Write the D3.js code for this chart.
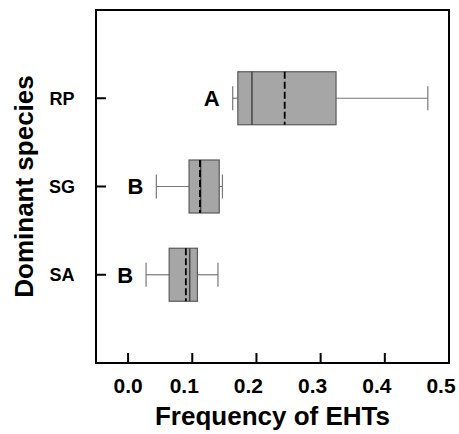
<!DOCTYPE html>
<html>
<head>
<meta charset="utf-8">
<script src="https://cdn.jsdelivr.net/npm/d3@7"></script>
<style>
  body { margin: 0; background: #fff; }
  svg { display: block; font-family: Arial, "Liberation Sans", sans-serif; font-weight: bold; }
</style>
</head>
<body>
<svg width="459" height="434"></svg>
<script>
// values
var species = ["RP", "SG", "SA"];
var whiskerLow = [0.163, 0.044, 0.028];
var q1 = [0.171, 0.095, 0.064];
var median = [0.193, 0.113, 0.096];
var mean = [0.244, 0.112, 0.090];
var q3 = [0.324, 0.142, 0.108];
var whiskerHigh = [0.467, 0.147, 0.140];
var letters = ["A", "B", "B"];
var xTicks = [0.0, 0.1, 0.2, 0.3, 0.4, 0.5];

var svg = d3.select("svg"),
    margin = {top: 10, right: 10, bottom: 71, left: 96},
    width = +svg.attr("width") - margin.left - margin.right,
    height = +svg.attr("height") - margin.top - margin.bottom;

var x = d3.scaleLinear().domain([-0.05, 0.5]).range([0, width]);
var y = d3.scalePoint().domain(species).range([0, height]).padding(1);

var data = species.map(function(s, i) {
    return {name: s, lo: whiskerLow[i], q1: q1[i], med: median[i], mean: mean[i],
            q3: q3[i], hi: whiskerHigh[i], letter: letters[i]};
});

var g = svg.append("g")
    .attr("transform", "translate(" + margin.left + "," + margin.top + ")");

var boxH = 53, capH = 24;

var box = g.selectAll("g.box")
    .data(data)
  .enter().append("g")
    .attr("class", "box")
    .attr("transform", function(d) { return "translate(0," + y(d.name) + ")"; });

// whiskers
box.append("line")
    .attr("x1", function(d) { return x(d.lo); })
    .attr("x2", function(d) { return x(d.q1); })
    .attr("stroke", "#777").attr("stroke-width", 1.2);
box.append("line")
    .attr("x1", function(d) { return x(d.q3); })
    .attr("x2", function(d) { return x(d.hi); })
    .attr("stroke", "#777").attr("stroke-width", 1.2);
box.append("line")
    .attr("x1", function(d) { return x(d.lo); })
    .attr("x2", function(d) { return x(d.lo); })
    .attr("y1", -capH / 2).attr("y2", capH / 2)
    .attr("stroke", "#777").attr("stroke-width", 1.2);
box.append("line")
    .attr("x1", function(d) { return x(d.hi); })
    .attr("x2", function(d) { return x(d.hi); })
    .attr("y1", -capH / 2).attr("y2", capH / 2)
    .attr("stroke", "#777").attr("stroke-width", 1.2);

box.append("rect")
    .attr("x", function(d) { return x(d.q1); })
    .attr("width", function(d) { return x(d.q3) - x(d.q1); })
    .attr("y", -boxH / 2)
    .attr("height", boxH)
    .attr("fill", "#a6a6a6")
    .attr("stroke", "#5a5a5a")
    .attr("stroke-width", 1.2);

// median (solid) and mean (dashed)
box.append("line")
    .attr("x1", function(d) { return x(d.med); })
    .attr("x2", function(d) { return x(d.med); })
    .attr("y1", -boxH / 2).attr("y2", boxH / 2)
    .attr("stroke", "#444").attr("stroke-width", 1.5);
box.append("line")
    .attr("x1", function(d) { return x(d.mean); })
    .attr("x2", function(d) { return x(d.mean); })
    .attr("y1", -boxH / 2).attr("y2", boxH / 2)
    .attr("stroke", "#000").attr("stroke-width", 1.8)
    .attr("stroke-dasharray", "7,3");

// significance letters
box.append("text")
    .attr("x", function(d) { return x(d.lo) - 13; })
    .attr("dy", "0.36em")
    .attr("text-anchor", "end")
    .style("font-size", "22px")
    .text(function(d) { return d.letter; });

// frame
g.append("rect")
    .attr("width", width).attr("height", height)
    .attr("fill", "none").attr("stroke", "#000").attr("stroke-width", 2);

// x ticks (inward) and labels
g.selectAll("line.xtick")
    .data(xTicks.filter(function(d) { return d < 0.5; }))
  .enter().append("line")
    .attr("class", "xtick")
    .attr("x1", function(d) { return x(d); })
    .attr("x2", function(d) { return x(d); })
    .attr("y1", height).attr("y2", height - 10)
    .attr("stroke", "#000").attr("stroke-width", 2);
g.selectAll("text.xlab")
    .data(xTicks)
  .enter().append("text")
    .attr("class", "xlab")
    .attr("x", function(d) { return x(d) + (d === 0 ? 0 : -8); })
    .attr("y", height + 30)
    .attr("text-anchor", "middle")
    .style("font-size", "21px")
    .text(function(d) { return d3.format(".1f")(d); });

// y ticks and labels
g.selectAll("line.ytick")
    .data(species)
  .enter().append("line")
    .attr("class", "ytick")
    .attr("x1", 0).attr("x2", 10)
    .attr("y1", function(d) { return y(d); })
    .attr("y2", function(d) { return y(d); })
    .attr("stroke", "#000").attr("stroke-width", 2);
g.selectAll("text.ylab")
    .data(species)
  .enter().append("text")
    .attr("class", "ylab")
    .attr("x", -34)
    .attr("y", function(d) { return y(d); })
    .attr("dy", "0.36em")
    .attr("text-anchor", "middle")
    .style("font-size", "18px")
    .text(function(d) { return d; });

// axis titles
svg.append("text")
    .attr("x", margin.left + width / 2)
    .attr("y", 425)
    .attr("text-anchor", "middle")
    .style("font-size", "26px")
    .text("Frequency of EHTs");
svg.append("text")
    .attr("transform", "translate(33," + (margin.top + height / 2) + ") rotate(-90)")
    .attr("text-anchor", "middle")
    .style("font-size", "26px")
    .text("Dominant species");
</script>
</body>
</html>
